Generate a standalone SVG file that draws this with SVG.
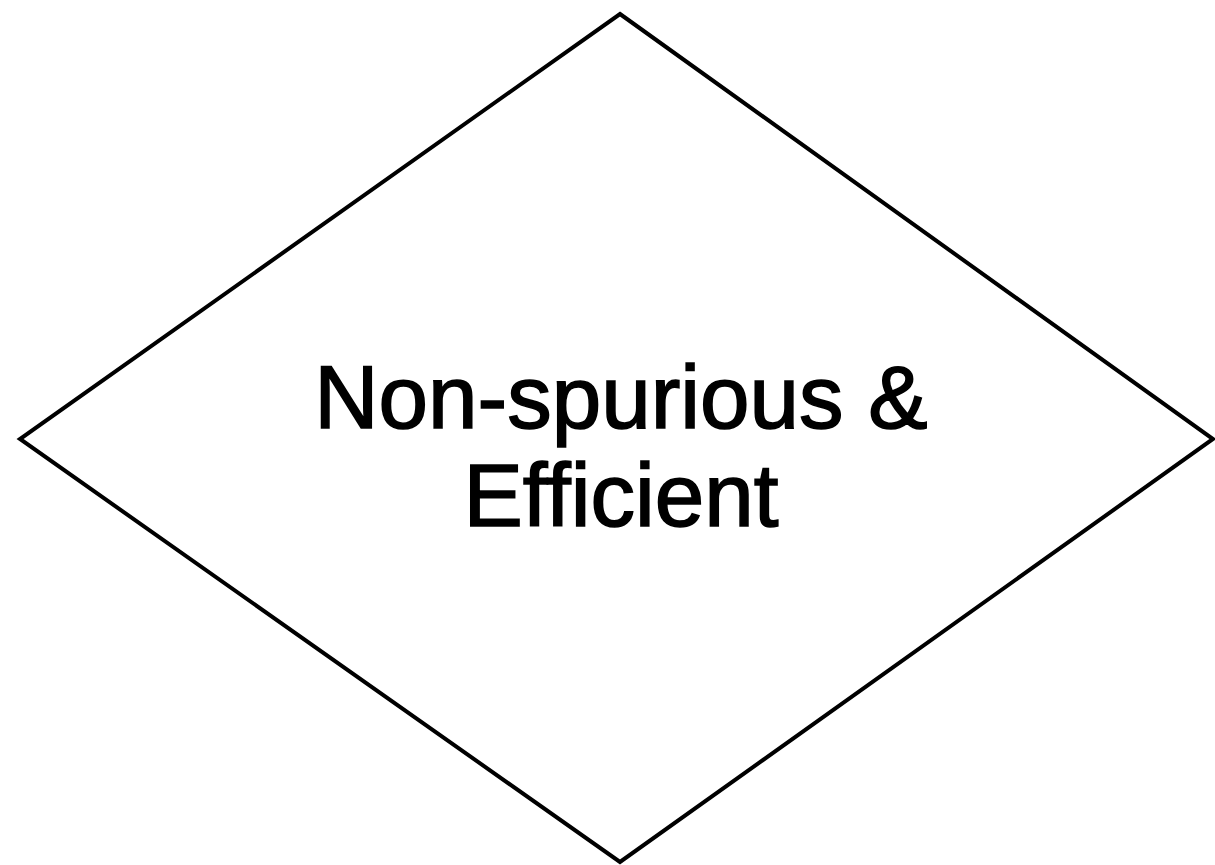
<svg xmlns="http://www.w3.org/2000/svg" width="1215" height="865" viewBox="0 0 1215 865">
<style>
.shape{fill:#fff;stroke:#000;stroke-width:4;stroke-linejoin:miter}
.label{font-family:"Liberation Sans",Arial,sans-serif;font-size:89px;fill:#000;stroke:#000;stroke-width:1.6;text-anchor:middle}
</style>
<rect width="1215" height="865" fill="#fff"/>
<g id="connectors"></g>
<g id="node-decision">
<polygon class="shape" points="620,14 1213,439 620,862 20,439"/>
<text class="label" x="621" y="428">Non-spurious &amp;</text>
<text class="label" x="621" y="526">Efficient</text>
</g>
</svg>
